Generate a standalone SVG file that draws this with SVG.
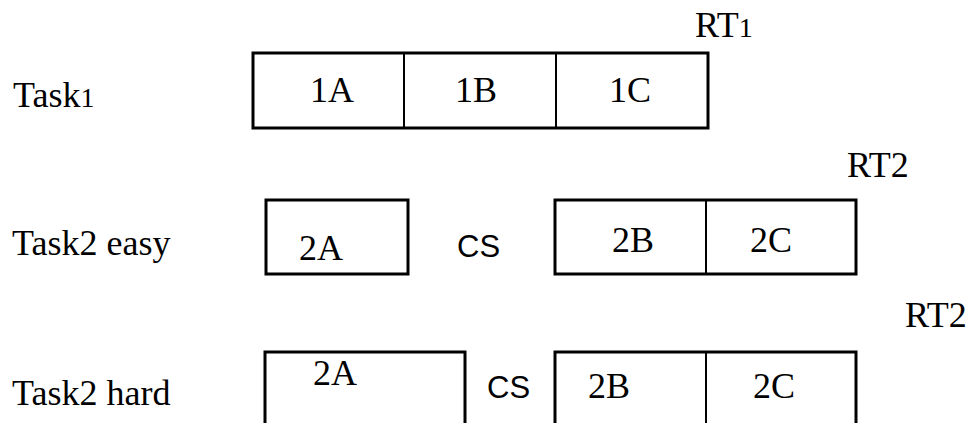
<svg xmlns="http://www.w3.org/2000/svg" width="975" height="423" viewBox="0 0 975 423">
<style>
.box{fill:#fff;stroke:#000;stroke-width:3}
.div{stroke:#000;stroke-width:2}
.t{font-family:"Liberation Serif","Times New Roman",serif;font-size:36px;fill:#000}
.cs{font-family:"Liberation Sans",Arial,sans-serif;font-size:31px;fill:#000}
</style>
<rect width="975" height="423" fill="#fff"/>
<g id="labels">
<text class="t" x="13" y="107">Task<tspan font-size="28">1</tspan></text>
<text class="t" x="12" y="255">Task2 easy</text>
<text class="t" x="12" y="405">Task2 hard</text>
<text class="t" x="695" y="37">RT<tspan font-size="28">1</tspan></text>
<text class="t" x="847" y="177">RT2</text>
<text class="t" x="905" y="327">RT2</text>
</g>
<g id="task1">
<rect class="box" x="253" y="53" width="455" height="75"/>
<line class="div" x1="404" y1="53" x2="404" y2="128"/>
<line class="div" x1="556" y1="53" x2="556" y2="128"/>
<text class="t" x="310" y="102">1A</text>
<text class="t" x="455" y="102">1B</text>
<text class="t" x="609" y="102">1C</text>
</g>
<g id="task2easy">
<rect class="box" x="266" y="200" width="142" height="74"/>
<text class="t" x="299" y="260">2A</text>
<text class="cs" x="457" y="257">CS</text>
<rect class="box" x="555" y="200" width="301" height="74"/>
<line class="div" x1="706" y1="200" x2="706" y2="274"/>
<text class="t" x="612" y="252">2B</text>
<text class="t" x="750" y="252">2C</text>
</g>
<g id="task2hard">
<rect class="box" x="265" y="352" width="200" height="80"/>
<text class="t" x="313" y="385">2A</text>
<text class="cs" x="487" y="398">CS</text>
<rect class="box" x="555" y="352" width="301" height="80"/>
<line class="div" x1="706" y1="352" x2="706" y2="432"/>
<text class="t" x="588" y="398">2B</text>
<text class="t" x="753" y="398">2C</text>
</g>
<g id="connectors"/>
</svg>
